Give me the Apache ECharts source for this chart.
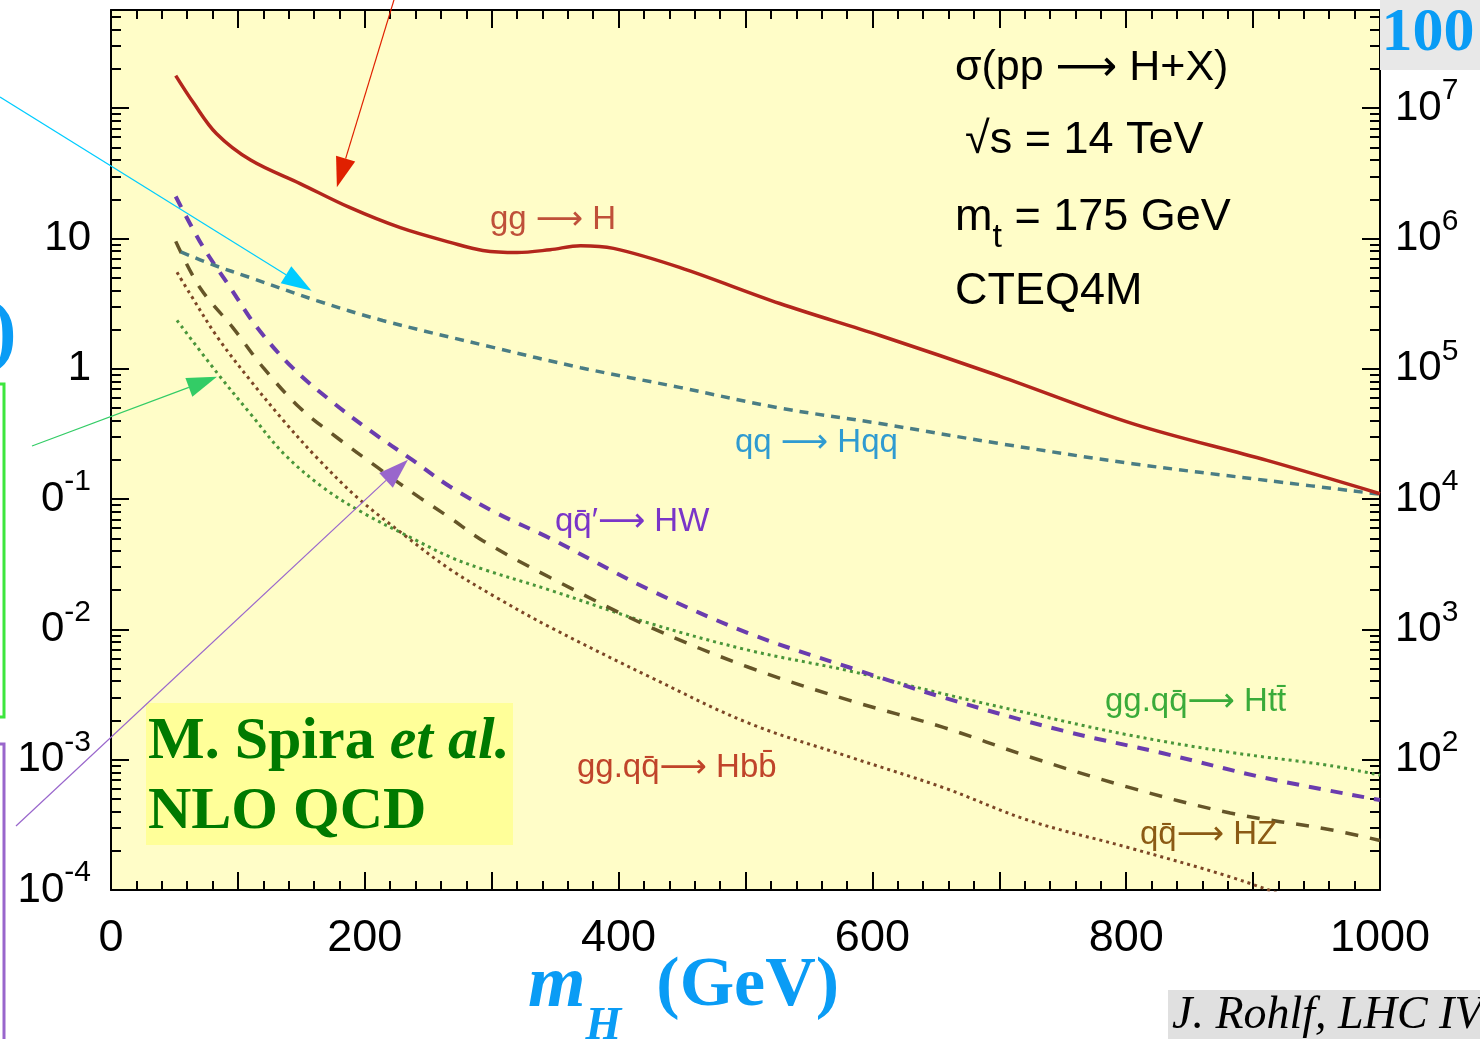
<!DOCTYPE html>
<html>
<head>
<meta charset="utf-8">
<script src="https://cdn.jsdelivr.net/npm/echarts@6/dist/echarts.min.js"></script>
<style>
  html, body { margin: 0; padding: 0; background: #fff; }
  #chart { width: 1480px; height: 1039px; }
</style>
</head>
<body>
<div id="chart"></div>
<script>
// sigma(pp -> H+X) [pb] vs m_H [GeV]
var ggH = [[51, 178], [65, 110], [83, 64], [110, 40], [149, 26.4], [188, 17.3], [228, 12.1], [268, 9.3], [293, 8.1], [320, 7.8], [346, 8.2], [370, 8.8], [396, 8.4], [448, 6.0], [527, 3.17], [606, 1.8], [700, 0.88], [805, 0.38], [911, 0.198], [1000, 0.11]];
var qqHqq = [[55, 7.9], [80, 6.3], [110, 5.0], [162, 3.34], [214, 2.35], [301, 1.46], [370, 1.02], [448, 0.72], [527, 0.50], [606, 0.38], [700, 0.267], [805, 0.187], [911, 0.139], [1000, 0.109]];
var qqHW = [[51, 21], [72, 8.8], [94, 4.2], [115, 2.08], [143, 1.02], [173, 0.57], [204, 0.336], [238, 0.198], [267, 0.125], [304, 0.078], [346, 0.050], [425, 0.020], [503, 0.0093], [582, 0.0051], [656, 0.0030], [750, 0.00167], [829, 0.00112], [908, 0.00073], [1000, 0.00049]];
var qqHZ = [[51, 9.5], [70, 4.2], [96, 2.07], [120, 1.02], [149, 0.50], [178, 0.297], [210, 0.175], [243, 0.103], [267, 0.072], [293, 0.048], [346, 0.025], [425, 0.0104], [503, 0.0051], [582, 0.00285], [656, 0.00177], [724, 0.00105], [803, 0.00061], [882, 0.00039], [961, 0.00029], [1000, 0.00024]];
var ggHtt = [[52, 2.35], [84, 0.92], [110, 0.45], [136, 0.224], [167, 0.123], [199, 0.078], [241, 0.048], [267, 0.036], [293, 0.029], [346, 0.020], [425, 0.0111], [503, 0.0069], [582, 0.0048], [656, 0.0032], [724, 0.00226], [803, 0.00154], [882, 0.00114], [961, 0.0009], [1000, 0.00076]];
var ggHbb = [[52, 5.5], [62, 3.8], [84, 1.74], [110, 0.81], [136, 0.40], [162, 0.209], [194, 0.103], [230, 0.054], [267, 0.029], [304, 0.0175], [346, 0.0104], [425, 0.0043], [503, 0.0019], [582, 0.00105], [656, 0.00061], [724, 0.00034], [803, 0.00021], [882, 0.000126], [940, 0.00008], [1000, 0.00005]];

// axes
var xMin = 0, xMax = 1000;
var xLabelValues = [0, 200, 400, 600, 800, 1000];
var yMin = 1e-4, yMax = 567;
var yMajorTicks = [1e-4, 1e-3, 1e-2, 1e-1, 1, 10, 100];
var leftLabelValues = [1e-4, 1e-3, 1e-2, 1e-1, 1, 10];
var leftLabelBase = ['10', '10', '0', '0', '1', '10'];
var leftLabelExp = ['-4', '-3', '-2', '-1', '', ''];
var rightLabelValues = [1e-3, 1e-2, 1e-1, 1, 10, 100];
var rightLabelExp = ['2', '3', '4', '5', '6', '7'];

var yMinorTicks = [];
for (var k = -4; k <= 2; k++) {
    for (var d = 2; d <= 9; d++) {
        var v = d * Math.pow(10, k);
        if (v < yMax) yMinorTicks.push(v);
    }
}

var SANS = "'Liberation Sans', 'DejaVu Sans', sans-serif";
var SERIF = "'Liberation Serif', 'DejaVu Serif', serif";

var labelRich = {
    b: { fontFamily: SANS, fontSize: 42, lineHeight: 42, color: '#000' },
    s: { fontFamily: SANS, fontSize: 30, lineHeight: 30, color: '#000', padding: [0, 0, 34, 0] }
};

function expIndex(v, list) {
    var e = Math.round(Math.log10(v));
    for (var i = 0; i < list.length; i++) {
        if (Math.round(Math.log10(list[i])) === e) return i;
    }
    return -1;
}

function xAxisCfg(pos, withLabels) {
    return {
        type: 'value', position: pos, min: xMin, max: xMax, interval: 100,
        axisLine: { show: true, onZero: false, lineStyle: { color: '#000', width: 2 } },
        axisTick: { show: true, inside: true, length: 18, lineStyle: { color: '#000', width: 2 } },
        minorTick: { show: true, splitNumber: 5, length: 9, lineStyle: { color: '#000', width: 2 } },
        splitLine: { show: false },
        minorSplitLine: { show: false },
        axisLabel: withLabels ? {
            customValues: xLabelValues, margin: 26,
            fontFamily: SANS, fontSize: 45, color: '#000',
            formatter: function (v) { return String(v); }
        } : { show: false }
    };
}

function yAxisCfg(pos, ticks, len, label, line) {
    return {
        type: 'log', logBase: 10, position: pos, min: yMin, max: yMax,
        axisLine: { show: line, onZero: false, lineStyle: { color: '#000', width: 2 } },
        axisTick: { show: true, inside: true, length: len, customValues: ticks, lineStyle: { color: '#000', width: 2 } },
        splitLine: { show: false },
        axisLabel: label || { show: false }
    };
}

var xBottom = xAxisCfg('bottom', true);
xBottom.name = '{m|m}{h|H}{g|  (GeV)}';
xBottom.nameLocation = 'middle';
xBottom.nameGap = 60;
xBottom.nameMoveOverlap = false;
xBottom.nameTextStyle = {
    color: '#0a9cf5',
    padding: [0, 124, 0, 0],
    rich: {
        m: { fontFamily: SERIF, fontSize: 74, lineHeight: 74, fontWeight: 'bold', fontStyle: 'italic', color: '#0a9cf5' },
        h: { fontFamily: SERIF, fontSize: 46, lineHeight: 46, fontWeight: 'bold', fontStyle: 'italic', color: '#0a9cf5', padding: [80, 0, 0, 0] },
        g: { fontFamily: SERIF, fontSize: 70, lineHeight: 70, fontWeight: 'bold', color: '#0a9cf5' }
    }
};

var leftLabel = {
    customValues: leftLabelValues, margin: 20, align: 'right',
    formatter: function (v) {
        var i = expIndex(v, leftLabelValues);
        if (i < 0) return '';
        return '{b|' + leftLabelBase[i] + '}' + (leftLabelExp[i] ? '{s|' + leftLabelExp[i] + '}' : '');
    },
    rich: labelRich
};
var rightLabel = {
    customValues: rightLabelValues, margin: 15, align: 'left',
    formatter: function (v) {
        var i = expIndex(v, rightLabelValues);
        if (i < 0) return '';
        return '{b|10}{s|' + rightLabelExp[i] + '}';
    },
    rich: labelRich
};

function lineSeries(name, data, color, width, dash, z) {
    return {
        type: 'line', name: name, data: data, xAxisIndex: 0, yAxisIndex: 0,
        showSymbol: false, symbol: 'none', smooth: 0.35, clip: true, z: z,
        lineStyle: { color: color, width: width, type: dash }
    };
}

var chart = echarts.init(document.getElementById('chart'));
chart.setOption({
    animation: false,
    backgroundColor: '#ffffff',
    grid: {
        left: 111, right: 100, top: 10, bottom: 149,
        containLabel: false, outerBoundsMode: 'none',
        show: true, backgroundColor: '#fffdc8', borderWidth: 0
    },
    xAxis: [xBottom, xAxisCfg('top', false)],
    yAxis: [
        yAxisCfg('left', yMajorTicks, 18, leftLabel, true),
        yAxisCfg('left', yMinorTicks, 10, null, false),
        yAxisCfg('right', yMajorTicks, 18, rightLabel, true),
        yAxisCfg('right', yMinorTicks, 10, null, false)
    ],
    series: [
        lineSeries('gg.qq -> Hbb', ggHbb, '#7c4626', 3, [3, 4], 2),
        lineSeries('gg.qq -> Htt', ggHtt, '#4a963a', 3, [3, 4], 3),
        lineSeries('qq -> HZ', qqHZ, '#655528', 3.5, [13, 12], 4),
        lineSeries('qq -> HW', qqHW, '#6a3cae', 4, [12, 10], 5),
        lineSeries('qq -> Hqq', qqHqq, '#4a7d84', 3.5, [9, 7], 6),
        lineSeries('gg -> H', ggH, '#b3261c', 3.5, 'solid', 7)
    ]
});

// slide annotations
function txt(x, y, text, font, size, color, extra) {
    var s = { text: text, font: (extra && extra.weight ? extra.weight + ' ' : '') + (extra && extra.italic ? 'italic ' : '') + size + 'px ' + font,
              fill: color, textVerticalAlign: 'middle', textAlign: 'left' };
    if (extra && extra.rich) s.rich = extra.rich;
    return { type: 'text', x: x, y: y, z: 100, style: s };
}

function arrow(tail, tip, color) {
    var dx = tip[0] - tail[0], dy = tip[1] - tail[1];
    var len = Math.sqrt(dx * dx + dy * dy);
    var ux = dx / len, uy = dy / len, L = 30, W = 10;
    var bx = tip[0] - ux * L, by = tip[1] - uy * L;
    return [
        { type: 'line', z: 110, shape: { x1: tail[0], y1: tail[1], x2: bx, y2: by }, style: { stroke: color, lineWidth: 1.2 } },
        { type: 'polygon', z: 110, shape: { points: [tip, [bx - uy * W, by + ux * W], [bx + uy * W, by - ux * W]] }, style: { fill: color } }
    ];
}

function px(m, s) { return chart.convertToPixel({ xAxisIndex: 0, yAxisIndex: 0 }, [m, s]); }

var curveLabels = [
    [490, 220, 'gg ⟶ H', '#bf5039'],
    [735, 443, 'qq ⟶ Hqq', '#2f9bd1'],
    [555, 522, 'qq̄\u2032⟶ HW', '#7a35c8'],
    [1105, 702, 'gg.qq̄⟶ Htt̄', '#3aab3a'],
    [577, 768, 'gg.qq̄⟶ Hbb̄', '#c0442a'],
    [1140, 835, 'qq̄⟶ HZ', '#8b5a14']
];

var g = [];
curveLabels.forEach(function (c) { g.push(txt(c[0], c[1], c[2], SANS, 33, c[3])); });

g.push(txt(955, 68, 'σ(pp ⟶ H+X)', SANS, 43, '#000'));
g.push(txt(965, 141, '√s = 14 TeV', SANS, 45, '#000'));
g.push(txt(955, 218, '{a|m}{t|t}{a| = 175 GeV}', SANS, 45, '#000', { rich: {
    a: { fontFamily: SANS, fontSize: 45, lineHeight: 45, fill: '#000' },
    t: { fontFamily: SANS, fontSize: 34, lineHeight: 34, fill: '#000', padding: [40, 0, 0, 0] }
} }));
g.push(txt(955, 292, 'CTEQ4M', SANS, 45, '#000'));

// M. Spira box
g.push({ type: 'rect', z: 90, shape: { x: 146, y: 703, width: 367, height: 142 }, style: { fill: '#ffff99' } });
g.push(txt(148, 742, '{r|M. Spira }{i|et al.}', SERIF, 60, '#007a00', { rich: {
    r: { fontFamily: SERIF, fontSize: 60, fontWeight: 'bold', fill: '#007a00' },
    i: { fontFamily: SERIF, fontSize: 60, fontWeight: 'bold', fontStyle: 'italic', fill: '#007a00' }
} }));
g.push(txt(148, 812, 'NLO QCD', SERIF, 60, '#007a00', { weight: 'bold' }));

// top-right "100" tab and credit
g.push({ type: 'rect', z: 90, shape: { x: 1380, y: 0, width: 100, height: 70 }, style: { fill: '#e8e8e8' } });
g.push({ type: 'text', z: 100, x: 1428, y: 34, style: { text: '100', font: 'bold 62px ' + SERIF, fill: '#0a9cf5', textAlign: 'center', textVerticalAlign: 'middle' } });
g.push({ type: 'rect', z: 90, shape: { x: 1168, y: 990, width: 312, height: 49 }, style: { fill: '#e0e0e0' } });
g.push(txt(1172, 1016, 'J. Rohlf, LHC IV', SERIF, 46, '#000', { italic: true }));

// cropped slide pieces at left edge
g.push(txt(-10, 335, ')', SERIF, 80, '#0a9cf5', { weight: 'bold' }));
g.push({ type: 'rect', z: 100, shape: { x: -60, y: 384, width: 64, height: 333 }, style: { fill: null, stroke: '#3de63d', lineWidth: 3 } });
g.push({ type: 'rect', z: 100, shape: { x: -60, y: 744, width: 64, height: 400 }, style: { fill: null, stroke: '#9966cc', lineWidth: 3 } });

// arrows pointing at curves
g = g.concat(arrow([397, -10], px(178, 24.7), '#e02000'));
g = g.concat(arrow([0, 97], px(158, 3.98), '#00ccff'));
g = g.concat(arrow([32, 446], px(83.5, 0.868), '#33cc66'));
g = g.concat(arrow([16, 826], px(234, 0.2), '#9966cc'));

chart.setOption({ graphic: g });
</script>
</body>
</html>
